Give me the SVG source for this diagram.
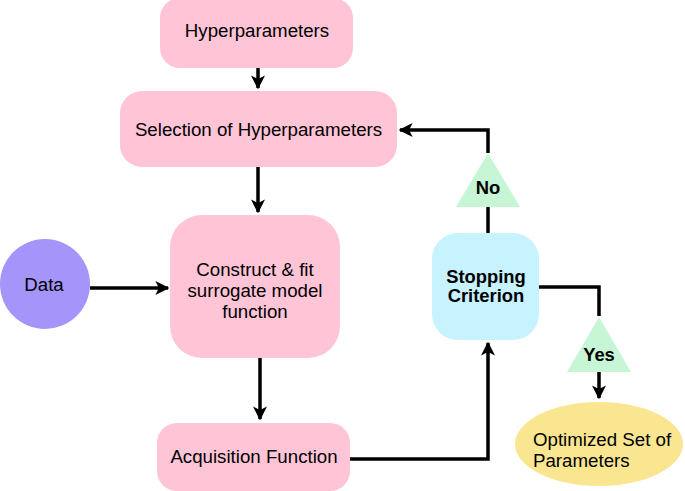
<svg xmlns="http://www.w3.org/2000/svg" width="685" height="491" viewBox="0 0 685 491">
<style>
.box{fill:#FFC4D6;}
.t{font-family:"Liberation Sans",Arial,sans-serif;font-size:18.7px;fill:#000;text-anchor:middle;}
.b{font-weight:bold;font-size:18.4px;}
.c{fill:none;stroke:#000;stroke-width:3.5;}
</style>
<defs>
<marker id="ah" viewBox="0 0 10 10" refX="9" refY="5" markerWidth="4" markerHeight="4" orient="auto" markerUnits="strokeWidth">
<path d="M0,0 L10,5 L0,10 L2.5,5 z" fill="#000"/>
</marker>
</defs>
<rect width="685" height="491" fill="#fff"/>
<g id="connectors">
<line class="c" x1="258" y1="68" x2="258" y2="88" marker-end="url(#ah)"/>
<line class="c" x1="258" y1="167" x2="258" y2="212" marker-end="url(#ah)"/>
<line class="c" x1="90" y1="288" x2="168" y2="288" marker-end="url(#ah)"/>
<line class="c" x1="260" y1="358" x2="260" y2="419" marker-end="url(#ah)"/>
<polyline class="c" points="347,459 488,459 488,343" marker-end="url(#ah)"/>
<line class="c" x1="488" y1="233" x2="488" y2="207"/>
<polyline class="c" points="488,153 488,130 400,130" marker-end="url(#ah)"/>
<polyline class="c" points="539,287 599,287 599,316"/>
<line class="c" x1="599" y1="372" x2="599" y2="398" marker-end="url(#ah)"/>
</g>
<g id="hyperparameters">
<rect class="box" x="160" y="-2" width="193" height="70" rx="20"/>
<text class="t" x="257" y="37">Hyperparameters</text>
</g>
<g id="selection">
<rect class="box" x="120" y="91" width="277" height="76" rx="22"/>
<text class="t" x="258.5" y="136">Selection of Hyperparameters</text>
</g>
<g id="data">
<circle cx="45" cy="284" r="45" fill="#A594F9"/>
<text class="t" x="44" y="291">Data</text>
</g>
<g id="construct">
<rect class="box" x="170" y="215" width="170" height="143" rx="32"/>
<text class="t" x="255" y="276">Construct &amp; fit</text>
<text class="t" x="255" y="297">surrogate model</text>
<text class="t" x="255" y="318">function</text>
</g>
<g id="acquisition">
<rect class="box" x="157" y="423" width="193" height="68" rx="20"/>
<text class="t" x="254" y="463">Acquisition Function</text>
</g>
<g id="stopping">
<rect x="432" y="233" width="107" height="107" rx="26" fill="#C7F2FF"/>
<text class="t b" x="486" y="283">Stopping</text>
<text class="t b" x="486" y="302">Criterion</text>
</g>
<g id="no">
<polygon points="488,153 520,207 456,207" fill="#C6F6D5"/>
<text class="t b" x="488" y="194">No</text>
</g>
<g id="yes">
<polygon points="599,317 631,372 567,372" fill="#C6F6D5"/>
<text class="t b" x="599" y="361">Yes</text>
</g>
<g id="optimized">
<ellipse cx="599" cy="444" rx="84" ry="42" fill="#FAE591"/>
<text class="t" x="533" y="446" style="text-anchor:start">Optimized Set of</text>
<text class="t" x="533" y="467" style="text-anchor:start">Parameters</text>
</g>
</svg>
